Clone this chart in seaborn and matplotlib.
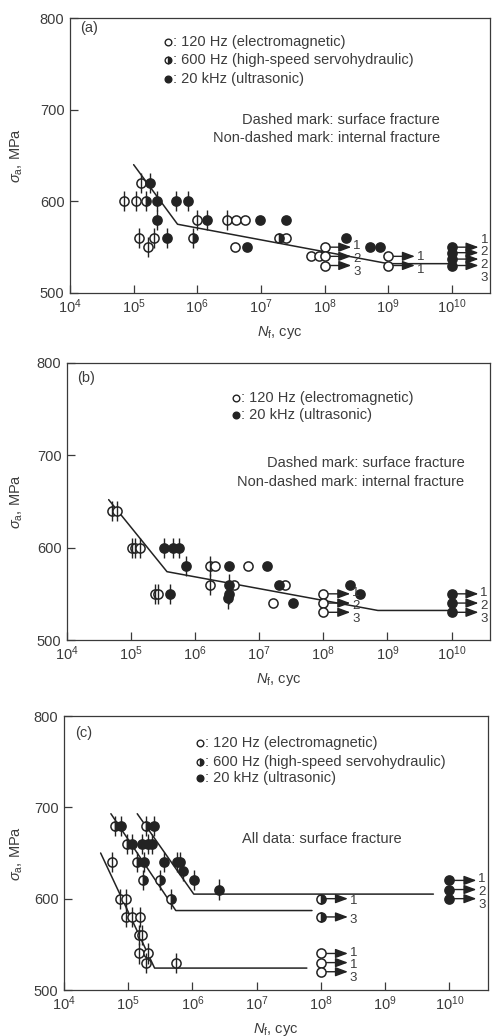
import numpy as np
import pandas as pd
import matplotlib
matplotlib.use("Agg")
import matplotlib.pyplot as plt
import seaborn as sns

# ---------------------------------------------------------------- data
# log10(Nf) and stress amplitude (MPa); surf = 1 -> surface fracture (dashed mark)

# (a)
a_open_logN = [4.85, 5.03, 5.11, 5.09, 5.32, 5.22, 6.00, 6.46, 6.61, 6.75, 6.59, 7.39, 7.79, 7.92]
a_open_S = [600, 600, 620, 560, 560, 550, 580, 580, 580, 580, 550, 560, 540, 540]
a_open_surf = [1, 1, 1, 1, 1, 1, 1, 1, 0, 0, 0, 0, 0, 0]
a_half_logN = [5.20, 5.93, 7.29]
a_half_S = [600, 560, 560]
a_half_surf = [1, 1, 0]
a_full_logN = [5.26, 5.37, 5.67, 5.86, 5.36, 5.53, 6.16, 6.78, 6.99, 7.40, 8.34, 8.71, 8.87]
a_full_S = [620, 600, 600, 600, 580, 560, 580, 550, 580, 580, 560, 550, 550]
a_full_surf = [1, 1, 1, 1, 1, 1, 1, 0, 0, 0, 0, 0, 0]
a_run_logN = [8, 8, 8, 9, 9, 10, 10, 10, 10]
a_run_S = [550, 540, 530, 540, 530, 550, 544, 537, 530]
a_run_count = ["1", "2", "3", "1", "1", "1", "2", "2", "3"]
a_run_kind = ["open"] * 5 + ["full"] * 4
a_fit_logN = [5.0, 5.69, 9.0, 10.0]
a_fit_S = [640, 575, 532, 532]

# (b)
b_open_logN = [4.70, 4.78, 5.01, 5.06, 5.14, 6.23, 6.31, 6.82, 6.23, 6.61, 7.40, 5.37, 5.42, 7.21]
b_open_S = [640, 640, 600, 600, 600, 580, 580, 580, 560, 560, 560, 550, 550, 540]
b_open_surf = [1, 1, 1, 1, 1, 1, 0, 0, 1, 0, 0, 1, 1, 0]
b_full_logN = [5.51, 5.66, 5.74, 5.85, 6.52, 7.12, 6.52, 7.31, 8.42, 5.61, 6.53, 8.57, 6.51, 7.53]
b_full_S = [600, 600, 600, 580, 580, 580, 560, 560, 560, 550, 550, 550, 545, 540]
b_full_surf = [1, 1, 1, 1, 0, 0, 1, 0, 0, 1, 1, 0, 1, 0]
b_run_logN = [8, 8, 8, 10, 10, 10]
b_run_S = [550, 540, 530, 550, 540, 530]
b_run_count = ["1", "2", "3", "1", "2", "3"]
b_run_kind = ["open"] * 3 + ["full"] * 3
b_fit_logN = [4.65, 5.56, 8.85, 10.0]
b_fit_S = [652, 574, 532, 532]

# (c) -- all surface fracture
c_open_logN = [4.75, 4.87, 4.97, 4.97, 5.06, 5.18, 5.17, 5.22, 5.17, 5.30, 5.28, 5.74]
c_open_S = [640, 600, 600, 580, 580, 580, 560, 560, 540, 540, 530, 530]
c_half_logN = [4.80, 5.27, 4.98, 5.13, 5.23, 5.49, 5.66]
c_half_S = [680, 680, 660, 640, 620, 620, 600]
c_full_logN = [4.88, 5.40, 5.06, 5.22, 5.30, 5.37, 5.24, 5.56, 5.76, 5.81, 5.85, 6.02, 6.42]
c_full_S = [680, 680, 660, 660, 660, 660, 640, 640, 640, 640, 630, 620, 610]
c_run_logN = [8, 8, 8, 8, 8, 10, 10, 10]
c_run_S = [540, 530, 520, 600, 580, 620, 610, 600]
c_run_count = ["1", "1", "3", "1", "3", "1", "2", "3"]
c_run_kind = ["open"] * 3 + ["half"] * 2 + ["full"] * 3
c_fit_open_logN = [4.57, 5.41, 7.78]
c_fit_open_S = [650, 524, 524]
c_fit_half_logN = [4.73, 5.74, 7.86]
c_fit_half_S = [693, 587, 587]
c_fit_full_logN = [5.14, 6.02, 9.75]
c_fit_full_S = [693, 605, 605]

legend_open = ": 120 Hz (electromagnetic)"
legend_half = ": 600 Hz (high-speed servohydraulic)"
legend_full = ": 20 kHz (ultrasonic)"

x_ticks_exp = [4, 5, 6, 7, 8, 9, 10]
y_ticks = [500, 600, 700, 800]

# ---------------------------------------------------------------- style
sns.set_theme(style="ticks")
plt.rcParams["font.family"] = ["Liberation Sans", "DejaVu Sans"]
plt.rcParams["mathtext.fontset"] = "custom"
plt.rcParams["mathtext.rm"] = "Liberation Sans"
plt.rcParams["mathtext.it"] = "Liberation Sans:italic"
plt.rcParams["mathtext.sf"] = "Liberation Sans"

INK = "#232323"
TXT = "#3c3c3c"
FRAME = "#3a3a3a"
MS = 6.6

W, H = 492, 1036
fig = plt.figure(figsize=(W / 100, H / 100), dpi=100)
fig.patch.set_facecolor("white")


def make_axes(left, right, top, bottom):
    ax = fig.add_axes([left / W, 1 - bottom / H, (right - left) / W, (bottom - top) / H])
    ax.set_xscale("log")
    ax.set_xlim(1e4, 10 ** 10.6)
    ax.set_ylim(500, 800)
    ax.set_xticks([10.0 ** e for e in x_ticks_exp])
    ax.set_xticklabels([r"$\mathregular{10^{%d}}$" % e for e in x_ticks_exp])
    ax.set_yticks(y_ticks)
    ax.set_yticklabels([str(v) for v in y_ticks])
    ax.minorticks_off()
    ax.tick_params(direction="in", length=5.5, width=0.9, color=FRAME,
                   labelsize=10.5, labelcolor=TXT)
    ax.tick_params(axis="x", pad=3)
    ax.tick_params(axis="y", pad=4)
    for sp in ax.spines.values():
        sp.set_visible(True)
        sp.set_color(FRAME)
        sp.set_linewidth(0.9)
    ax.set_ylabel(r"$\sigma_{\mathregular{a}}$, MPa", fontsize=10.5, color=TXT)
    ax.set_xlabel(r"$N_{\mathregular{f}}$, cyc", fontsize=10.5, color=TXT)
    # y-label sits about 17 px from the figure's left edge
    ax.yaxis.set_label_coords(-(left - 25) / (right - left), 0.5)
    ax.xaxis.set_label_coords(0.5, -0.112)
    return ax


def draw_points(ax, logN, S, kind, surf=None, size=MS):
    N = 10.0 ** np.asarray(logN, dtype=float)
    S = np.asarray(S, dtype=float)
    if kind == "half":
        ax.plot(N, S, ls="none", marker="o", ms=size, fillstyle="right",
                markerfacecolor=INK, markerfacecoloralt="white",
                markeredgecolor=INK, markeredgewidth=1.1, zorder=3)
    else:
        df = pd.DataFrame({"N": N, "S": S})
        sns.scatterplot(data=df, x="N", y="S", ax=ax, s=size ** 2, marker="o",
                        facecolor="white" if kind == "open" else INK,
                        edgecolor=INK, linewidth=1.1, zorder=3, legend=False)
    if surf is not None:
        m = np.asarray(surf, dtype=bool)
        ax.vlines(N[m], S[m] - 11, S[m] + 11, color=INK, lw=1.0, zorder=4)


def draw_fit(ax, logN, S):
    df = pd.DataFrame({"N": 10.0 ** np.asarray(logN, dtype=float), "S": S})
    sns.lineplot(data=df, x="N", y="S", ax=ax, sort=False, estimator=None,
                 color=INK, lw=1.1, zorder=2)


def draw_runouts(ax, logN, S, counts, kinds):
    logN = np.asarray(logN, dtype=float)
    S = np.asarray(S, dtype=float)
    for kind in ("open", "half", "full"):
        idx = [i for i, k in enumerate(kinds) if k == kind]
        if not idx:
            continue
        draw_points(ax, logN[idx], S[idx], kind)
    # arrows and counts, grouped by (cycles, kind)
    groups = {}
    for i, (ln, k) in enumerate(zip(logN, kinds)):
        groups.setdefault((ln, k), []).append(i)
    for (ln, k), idx in groups.items():
        idx = sorted(idx, key=lambda i: -S[i])
        ys = S[idx]
        n = len(idx)
        gaps = -np.diff(ys) if n > 1 else np.array([20.0])
        step = max(14.0, gaps.min())
        centre = ys.mean() - 3
        lab_y = [centre - (j - (n - 1) / 2) * step for j in range(n)]
        for j, i in enumerate(idx):
            N0 = 10.0 ** ln
            ax.annotate("", xy=(N0 * 10 ** 0.42, S[i]), xytext=(N0 * 10 ** 0.05, S[i]),
                        arrowprops=dict(arrowstyle="-|>,head_length=0.75,head_width=0.28",
                                        mutation_scale=10, color=INK, lw=1.0,
                                        shrinkA=0, shrinkB=0), zorder=2.5)
            ax.text(N0 * 10 ** 0.45, lab_y[j], counts[i], fontsize=9.5, color=TXT,
                    ha="left", va="center")


def legend_block(ax, x, ys, kinds, labels):
    for y, k, lab in zip(ys, kinds, labels):
        if k == "half":
            ax.plot([x], [y], transform=ax.transAxes, ls="none", marker="o", ms=4.8,
                    fillstyle="right", markerfacecolor=INK, markerfacecoloralt="white",
                    markeredgecolor=INK, markeredgewidth=1.0, clip_on=False)
        else:
            ax.plot([x], [y], transform=ax.transAxes, ls="none", marker="o", ms=4.8,
                    markerfacecolor="white" if k == "open" else INK,
                    markeredgecolor=INK, markeredgewidth=1.0, clip_on=False)
        ax.text(x + 0.012, y, lab, transform=ax.transAxes, fontsize=10.5,
                color=TXT, ha="left", va="center")


# ---------------------------------------------------------------- panel (a)
axa = make_axes(70, 490, 18, 293)
draw_fit(axa, a_fit_logN, a_fit_S)
draw_points(axa, a_open_logN, a_open_S, "open", a_open_surf)
draw_points(axa, a_half_logN, a_half_S, "half", a_half_surf)
draw_points(axa, a_full_logN, a_full_S, "full", a_full_surf)
draw_runouts(axa, a_run_logN, a_run_S, a_run_count, a_run_kind)
axa.text(0.024, 0.965, "(a)", transform=axa.transAxes, fontsize=10.5, color=TXT, va="center")
legend_block(axa, 0.233, [0.913, 0.846, 0.780], ["open", "half", "full"],
             [legend_open, legend_half, legend_full])
axa.text(0.881, 0.629, "Dashed mark: surface fracture", transform=axa.transAxes,
         fontsize=10.5, color=TXT, ha="right", va="center")
axa.text(0.881, 0.565, "Non-dashed mark: internal fracture", transform=axa.transAxes,
         fontsize=10.5, color=TXT, ha="right", va="center")

# ---------------------------------------------------------------- panel (b)
axb = make_axes(67, 490, 363, 640)
draw_fit(axb, b_fit_logN, b_fit_S)
draw_points(axb, b_open_logN, b_open_S, "open", b_open_surf)
draw_points(axb, b_full_logN, b_full_S, "full", b_full_surf)
draw_runouts(axb, b_run_logN, b_run_S, b_run_count, b_run_kind)
axb.text(0.024, 0.946, "(b)", transform=axb.transAxes, fontsize=10.5, color=TXT, va="center")
legend_block(axb, 0.40, [0.874, 0.812], ["open", "full"], [legend_open, legend_full])
axb.text(0.94, 0.639, "Dashed mark: surface fracture", transform=axb.transAxes,
         fontsize=10.5, color=TXT, ha="right", va="center")
axb.text(0.94, 0.572, "Non-dashed mark: internal fracture", transform=axb.transAxes,
         fontsize=10.5, color=TXT, ha="right", va="center")

# ---------------------------------------------------------------- panel (c)
axc = make_axes(64, 488, 716, 990)
draw_fit(axc, c_fit_open_logN, c_fit_open_S)
draw_fit(axc, c_fit_half_logN, c_fit_half_S)
draw_fit(axc, c_fit_full_logN, c_fit_full_S)
draw_points(axc, c_open_logN, c_open_S, "open", [1] * len(c_open_S))
draw_points(axc, c_half_logN, c_half_S, "half", [1] * len(c_half_S))
draw_points(axc, c_full_logN, c_full_S, "full", [1] * len(c_full_S))
draw_runouts(axc, c_run_logN, c_run_S, c_run_count, c_run_kind)
axc.text(0.026, 0.938, "(c)", transform=axc.transAxes, fontsize=10.5, color=TXT, va="center")
legend_block(axc, 0.32, [0.900, 0.832, 0.772], ["open", "half", "full"],
             [legend_open, legend_half, legend_full])
axc.text(0.42, 0.55, "All data: surface fracture", transform=axc.transAxes,
         fontsize=10.5, color=TXT, ha="left", va="center")

fig.savefig("out.png", dpi=100, facecolor="white")
